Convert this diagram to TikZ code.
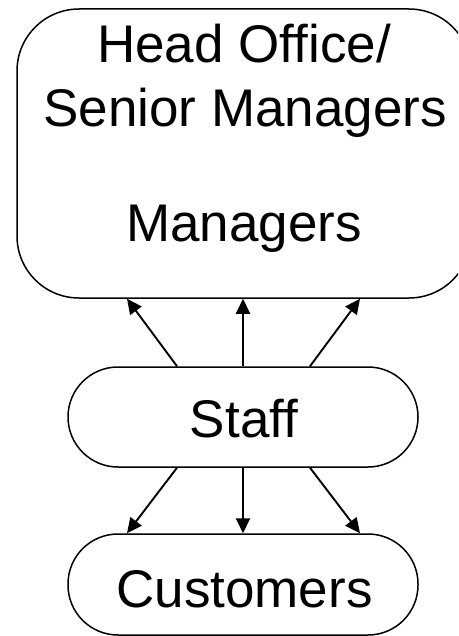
\documentclass[tikz,border=0pt]{standalone}
\usepackage{fontspec}
\setmainfont{Liberation Sans}
\usetikzlibrary{arrows.meta,calc}
\begin{document}
\begin{tikzpicture}[x=1pt,y=-1pt,
  box/.style={draw=black,line width=1.5pt,fill=white,inner sep=0pt},
  lbl/.style={anchor=base,inner sep=0pt,font=\fontsize{53}{64}\selectfont},
  link/.style={line width=1.9pt,-{Triangle[length=15pt,width=14pt]}}]
\useasboundingbox (0,0) rectangle (458,636);
\clip (0,0) rectangle (458,636);
\node[box,minimum width=454pt,minimum height=289pt,rounded corners=62pt] (top) at (244,153.5) {};
\node[box,minimum width=350pt,minimum height=100pt,rounded corners=50pt] (staff) at (243,417) {};
\node[box,minimum width=350pt,minimum height=101pt,rounded corners=50pt] (cust) at (243,584.5) {};
\node[lbl] (t1) at (244,63) {Head Office/};
\node[lbl] (t2) at (245,127) {Senior Managers};
\node[lbl] (t3) at (244,241) {Managers};
\node[lbl] (ts) at (244,437) {Staff};
\node[lbl] (tc) at (244.5,607) {Customers};
\draw[link] ($(staff.north)+(-66,0)$) -- ($(top.south)+(-117,0)$);
\draw[link] (staff.north) -- ($(top.south)+(-1,0)$);
\draw[link] ($(staff.north)+(67,0)$) -- ($(top.south)+(116,0)$);
\draw[link] ($(staff.south)+(-66,0)$) -- ($(cust.north)+(-116,0)$);
\draw[link] (staff.south) -- (cust.north);
\draw[link] ($(staff.south)+(67,0)$) -- ($(cust.north)+(117,0)$);
\end{tikzpicture}
\end{document}
